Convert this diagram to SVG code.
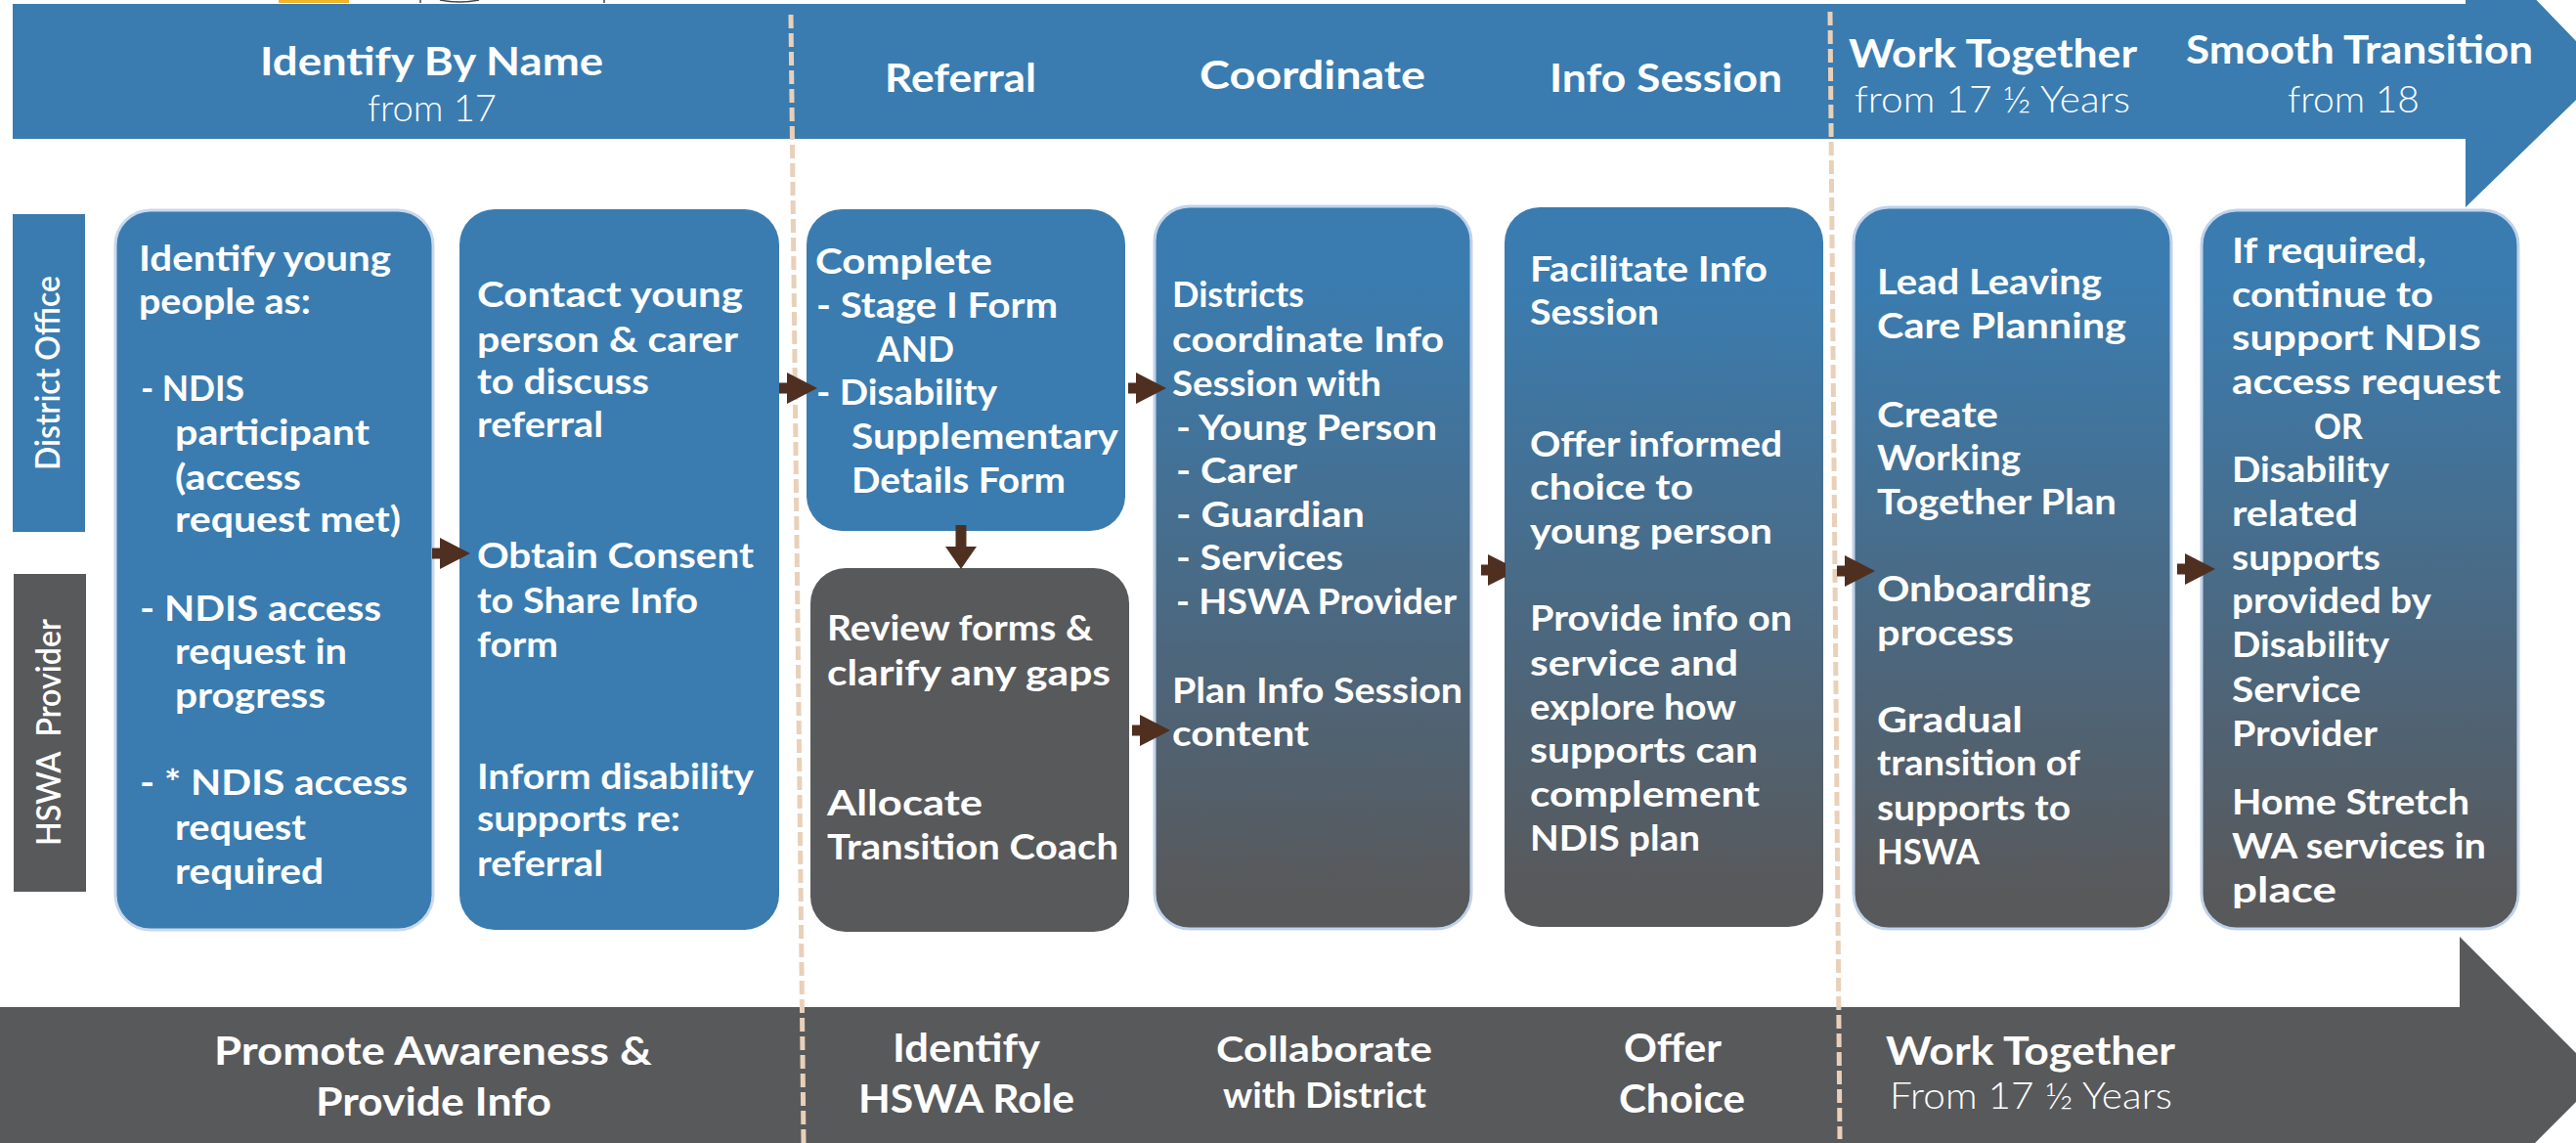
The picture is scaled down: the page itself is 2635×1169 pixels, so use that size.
<svg xmlns="http://www.w3.org/2000/svg" width="2635" height="1169" viewBox="0 0 2635 1169">
<style>
text{font-family:"Lato","Open Sans","Liberation Sans",sans-serif;fill:#fff;font-weight:700;font-size:37px}
.h{font-size:41px}.s{font-size:37px;font-weight:300}.l{font-size:34px;font-weight:600;white-space:pre}
.b{fill:#3A7CB0}.g{fill:#58595B}.f{fill:url(#fade);stroke:#C0D2E9;stroke-width:3}
.sep{stroke:#E9D0B9;stroke-width:5;stroke-dasharray:14 5;fill:none}
.c{stroke:#4F2F20;stroke-width:11;fill:none}
</style>
<defs>
<linearGradient id="fade" x1="0" y1="0" x2="0" y2="1"><stop offset="0.1" stop-color="#3A7CB0"/><stop offset="0.95" stop-color="#58595B"/></linearGradient>
<marker id="ah" viewBox="0 -16 31 32" refX="0" refY="0" markerWidth="31" markerHeight="32" markerUnits="userSpaceOnUse" orient="auto"><path d="M0,-16L31,0L0,16Z" fill="#4F2F20"/></marker>
<marker id="ahs" viewBox="0 -16 23 32" refX="0" refY="0" markerWidth="23" markerHeight="32" markerUnits="userSpaceOnUse" orient="auto"><path d="M0,-16L23,0L0,16Z" fill="#4F2F20"/></marker>
</defs>
<rect width="2635" height="1169" fill="#fff"/>
<rect x="285" y="0" width="72" height="3" fill="#F2B325"/>
<path d="M430,0V3M618,0V3M450,0Q470,4 490,0" stroke="#444" stroke-width="1.5" fill="none"/>
<g id="banner-top"><path class="b" d="M13,4H2522V-75L2665,73L2522,212V142H13Z"/>
<text class="h" x="266" y="77" textLength="351" lengthAdjust="spacingAndGlyphs">Identify By Name</text>
<text class="s" x="376" y="124" textLength="132" lengthAdjust="spacingAndGlyphs">from 17</text>
<text class="h" x="905" y="94" textLength="155" lengthAdjust="spacingAndGlyphs">Referral</text>
<text class="h" x="1227" y="91" textLength="231" lengthAdjust="spacingAndGlyphs">Coordinate</text>
<text class="h" x="1585" y="94" textLength="238" lengthAdjust="spacingAndGlyphs">Info Session</text>
<text class="h" x="1891" y="69" textLength="295" lengthAdjust="spacingAndGlyphs">Work Together</text>
<text class="s" x="1897" y="115" textLength="282" lengthAdjust="spacingAndGlyphs">from 17 ½ Years</text>
<text class="h" x="2236" y="65" textLength="355" lengthAdjust="spacingAndGlyphs">Smooth Transition</text>
<text class="s" x="2340" y="115" textLength="135" lengthAdjust="spacingAndGlyphs">from 18</text></g>
<g id="banner-bottom"><path class="g" d="M0,1030H2516V958L2660,1102L2593,1169H0Z"/>
<text class="h" x="219" y="1089" textLength="448" lengthAdjust="spacingAndGlyphs">Promote Awareness &amp;</text>
<text class="h" x="323" y="1141" textLength="241" lengthAdjust="spacingAndGlyphs">Provide Info</text>
<text class="h" x="913" y="1086" textLength="151" lengthAdjust="spacingAndGlyphs">Identify</text>
<text class="h" x="878" y="1138" textLength="221" lengthAdjust="spacingAndGlyphs">HSWA Role</text>
<text x="1244" y="1086" textLength="221" lengthAdjust="spacingAndGlyphs">Collaborate</text>
<text x="1251" y="1133" textLength="208" lengthAdjust="spacingAndGlyphs">with District</text>
<text class="h" x="1661" y="1086" textLength="100" lengthAdjust="spacingAndGlyphs">Offer</text>
<text class="h" x="1656" y="1138" textLength="129" lengthAdjust="spacingAndGlyphs">Choice</text>
<text class="h" x="1929" y="1089" textLength="296" lengthAdjust="spacingAndGlyphs">Work Together</text>
<text class="s" x="1933" y="1134" textLength="289" lengthAdjust="spacingAndGlyphs">From 17 ½ Years</text></g>
<g id="separators"><path class="sep" d="M809,15L822,1169"/><path class="sep" d="M1872,12L1882,1165"/></g>
<g id="lane-district"><rect class="b" x="13" y="219" width="74" height="325"/><text class="l" transform="translate(61,481) rotate(-90)" textLength="199" lengthAdjust="spacingAndGlyphs">District Office</text></g>
<g id="lane-hswa"><rect class="g" x="14" y="587" width="74" height="325"/><text class="l" transform="translate(62,865) rotate(-90)" textLength="232" lengthAdjust="spacingAndGlyphs">HSWA  Provider</text></g>
<g id="node1"><rect class="b" x="118" y="215" width="325" height="736" rx="36" stroke="#C9D8EC" stroke-width="3"/>
<text x="142" y="277" textLength="258" lengthAdjust="spacingAndGlyphs">Identify young</text>
<text x="142" y="321" textLength="176" lengthAdjust="spacingAndGlyphs">people as:</text>
<text x="144" y="410" textLength="106" lengthAdjust="spacingAndGlyphs">- NDIS</text>
<text x="179" y="455" textLength="199" lengthAdjust="spacingAndGlyphs">participant</text>
<text x="179" y="501" textLength="129" lengthAdjust="spacingAndGlyphs">(access</text>
<text x="179" y="544" textLength="231" lengthAdjust="spacingAndGlyphs">request met)</text>
<text x="143" y="635" textLength="247" lengthAdjust="spacingAndGlyphs">- NDIS access</text>
<text x="179" y="679" textLength="176" lengthAdjust="spacingAndGlyphs">request in</text>
<text x="179" y="724" textLength="154" lengthAdjust="spacingAndGlyphs">progress</text>
<text x="143" y="813" textLength="274" lengthAdjust="spacingAndGlyphs">- * NDIS access</text>
<text x="179" y="859" textLength="134" lengthAdjust="spacingAndGlyphs">request</text>
<text x="179" y="904" textLength="152" lengthAdjust="spacingAndGlyphs">required</text></g>
<g id="node2"><rect class="b" x="470" y="214" width="327" height="737" rx="36"/>
<text x="488" y="314" textLength="272" lengthAdjust="spacingAndGlyphs">Contact young</text>
<text x="488" y="360" textLength="267" lengthAdjust="spacingAndGlyphs">person &amp; carer</text>
<text x="488" y="403" textLength="176" lengthAdjust="spacingAndGlyphs">to discuss</text>
<text x="488" y="447" textLength="129" lengthAdjust="spacingAndGlyphs">referral</text>
<text x="488" y="581" textLength="283" lengthAdjust="spacingAndGlyphs">Obtain Consent</text>
<text x="488" y="627" textLength="226" lengthAdjust="spacingAndGlyphs">to Share Info</text>
<text x="488" y="672" textLength="83" lengthAdjust="spacingAndGlyphs">form</text>
<text x="488" y="807" textLength="283" lengthAdjust="spacingAndGlyphs">Inform disability</text>
<text x="488" y="850" textLength="208" lengthAdjust="spacingAndGlyphs">supports re:</text>
<text x="488" y="896" textLength="129" lengthAdjust="spacingAndGlyphs">referral</text></g>
<g id="node3"><rect class="b" x="825" y="214" width="326" height="329" rx="36"/>
<text x="834" y="280" textLength="181" lengthAdjust="spacingAndGlyphs">Complete</text>
<text x="835" y="325" textLength="247" lengthAdjust="spacingAndGlyphs">- Stage I Form</text>
<text x="897" y="370" textLength="79" lengthAdjust="spacingAndGlyphs">AND</text>
<text x="835" y="414" textLength="185" lengthAdjust="spacingAndGlyphs">- Disability</text>
<text x="871" y="459" textLength="273" lengthAdjust="spacingAndGlyphs">Supplementary</text>
<text x="871" y="504" textLength="219" lengthAdjust="spacingAndGlyphs">Details Form</text></g>
<g id="node4"><rect class="g" x="829" y="581" width="326" height="372" rx="36"/>
<text x="846" y="655" textLength="272" lengthAdjust="spacingAndGlyphs">Review forms &amp;</text>
<text x="846" y="701" textLength="290" lengthAdjust="spacingAndGlyphs">clarify any gaps</text>
<text x="846" y="834" textLength="159" lengthAdjust="spacingAndGlyphs">Allocate</text>
<text x="846" y="879" textLength="298" lengthAdjust="spacingAndGlyphs">Transition Coach</text></g>
<g id="node5"><rect class="f" x="1181" y="211" width="324" height="739" rx="36"/>
<text x="1199" y="314" textLength="135" lengthAdjust="spacingAndGlyphs">Districts</text>
<text x="1199" y="360" textLength="278" lengthAdjust="spacingAndGlyphs">coordinate Info</text>
<text x="1199" y="405" textLength="214" lengthAdjust="spacingAndGlyphs">Session with</text>
<text x="1203" y="450" textLength="267" lengthAdjust="spacingAndGlyphs">- Young Person</text>
<text x="1203" y="494" textLength="124" lengthAdjust="spacingAndGlyphs">- Carer</text>
<text x="1203" y="539" textLength="193" lengthAdjust="spacingAndGlyphs">- Guardian</text>
<text x="1203" y="583" textLength="171" lengthAdjust="spacingAndGlyphs">- Services</text>
<text x="1203" y="628" textLength="287" lengthAdjust="spacingAndGlyphs">- HSWA Provider</text>
<text x="1199" y="719" textLength="297" lengthAdjust="spacingAndGlyphs">Plan Info Session</text>
<text x="1199" y="763" textLength="140" lengthAdjust="spacingAndGlyphs">content</text></g>
<g id="node6"><rect class="f" x="1539" y="212" width="326" height="736" rx="36" style="stroke:none"/>
<text x="1565" y="288" textLength="243" lengthAdjust="spacingAndGlyphs">Facilitate Info</text>
<text x="1565" y="332" textLength="132" lengthAdjust="spacingAndGlyphs">Session</text>
<text x="1565" y="467" textLength="258" lengthAdjust="spacingAndGlyphs">Offer informed</text>
<text x="1565" y="511" textLength="167" lengthAdjust="spacingAndGlyphs">choice to</text>
<text x="1565" y="556" textLength="248" lengthAdjust="spacingAndGlyphs">young person</text>
<text x="1565" y="645" textLength="268" lengthAdjust="spacingAndGlyphs">Provide info on</text>
<text x="1565" y="691" textLength="213" lengthAdjust="spacingAndGlyphs">service and</text>
<text x="1565" y="736" textLength="211" lengthAdjust="spacingAndGlyphs">explore how</text>
<text x="1565" y="780" textLength="233" lengthAdjust="spacingAndGlyphs">supports can</text>
<text x="1565" y="825" textLength="235" lengthAdjust="spacingAndGlyphs">complement</text>
<text x="1565" y="870" textLength="174" lengthAdjust="spacingAndGlyphs">NDIS plan</text></g>
<g id="node7"><rect class="f" x="1896" y="212" width="325" height="738" rx="36"/>
<text x="1920" y="301" textLength="230" lengthAdjust="spacingAndGlyphs">Lead Leaving</text>
<text x="1920" y="346" textLength="255" lengthAdjust="spacingAndGlyphs">Care Planning</text>
<text x="1920" y="437" textLength="124" lengthAdjust="spacingAndGlyphs">Create</text>
<text x="1920" y="481" textLength="147" lengthAdjust="spacingAndGlyphs">Working</text>
<text x="1920" y="526" textLength="245" lengthAdjust="spacingAndGlyphs">Together Plan</text>
<text x="1920" y="615" textLength="219" lengthAdjust="spacingAndGlyphs">Onboarding</text>
<text x="1920" y="660" textLength="140" lengthAdjust="spacingAndGlyphs">process</text>
<text x="1920" y="749" textLength="149" lengthAdjust="spacingAndGlyphs">Gradual</text>
<text x="1920" y="793" textLength="208" lengthAdjust="spacingAndGlyphs">transition of</text>
<text x="1920" y="839" textLength="198" lengthAdjust="spacingAndGlyphs">supports to</text>
<text x="1920" y="884" textLength="105" lengthAdjust="spacingAndGlyphs">HSWA</text></g>
<g id="node8"><rect class="f" x="2252" y="215" width="324" height="735" rx="36"/>
<text x="2283" y="269" textLength="199" lengthAdjust="spacingAndGlyphs">If required,</text>
<text x="2283" y="314" textLength="206" lengthAdjust="spacingAndGlyphs">continue to</text>
<text x="2283" y="358" textLength="255" lengthAdjust="spacingAndGlyphs">support NDIS</text>
<text x="2283" y="403" textLength="275" lengthAdjust="spacingAndGlyphs">access request</text>
<text x="2367" y="449" textLength="50" lengthAdjust="spacingAndGlyphs">OR</text>
<text x="2283" y="493" textLength="161" lengthAdjust="spacingAndGlyphs">Disability</text>
<text x="2283" y="538" textLength="129" lengthAdjust="spacingAndGlyphs">related</text>
<text x="2283" y="583" textLength="152" lengthAdjust="spacingAndGlyphs">supports</text>
<text x="2283" y="627" textLength="204" lengthAdjust="spacingAndGlyphs">provided by</text>
<text x="2283" y="672" textLength="161" lengthAdjust="spacingAndGlyphs">Disability</text>
<text x="2283" y="718" textLength="132" lengthAdjust="spacingAndGlyphs">Service</text>
<text x="2283" y="763" textLength="149" lengthAdjust="spacingAndGlyphs">Provider</text>
<text x="2283" y="833" textLength="243" lengthAdjust="spacingAndGlyphs">Home Stretch</text>
<text x="2283" y="878" textLength="260" lengthAdjust="spacingAndGlyphs">WA services in</text>
<text x="2283" y="923" textLength="107" lengthAdjust="spacingAndGlyphs">place</text></g>
<g id="connectors">
<line class="c" x1="442" y1="566" x2="450" y2="566" marker-end="url(#ah)"/>
<line class="c" x1="797" y1="397" x2="805" y2="397" marker-end="url(#ah)"/>
<line class="c" x1="1154" y1="397" x2="1162" y2="397" marker-end="url(#ah)"/>
<line class="c" x1="983" y1="537" x2="983" y2="559" marker-end="url(#ahs)"/>
<line class="c" x1="1158" y1="747" x2="1166" y2="747" marker-end="url(#ah)"/>
<path d="M1515,577.5H1522V567L1540,576V590L1522,599V588.5H1515Z" fill="#4F2F20"/>
<line class="c" x1="1879" y1="584" x2="1887" y2="584" marker-end="url(#ah)"/>
<line class="c" x1="2227" y1="582" x2="2235" y2="582" marker-end="url(#ah)"/>
</g>
</svg>
